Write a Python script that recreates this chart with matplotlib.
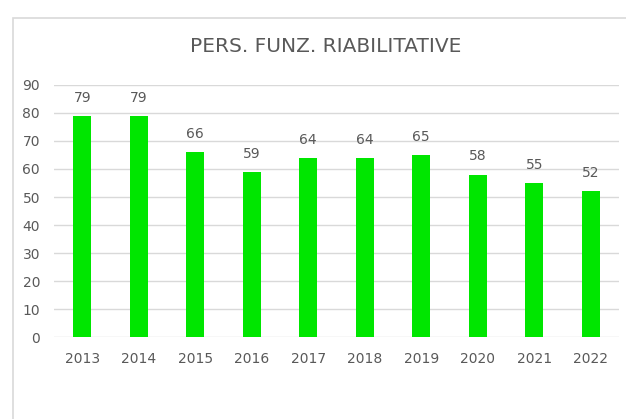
import matplotlib
matplotlib.use("Agg")
import matplotlib.pyplot as plt
from matplotlib.patches import Rectangle

years = ["2013", "2014", "2015", "2016", "2017", "2018", "2019", "2020", "2021", "2022"]
values = [79, 79, 66, 59, 64, 64, 65, 58, 55, 52]
title = "PERS. FUNZ. RIABILITATIVE"

grey = "#595959"
fig = plt.figure(figsize=(6.26, 4.19), dpi=100)
fig.patches.append(Rectangle((13 / 626, -0.05), 1.0, 1 - 18 / 419 + 0.05,
                             transform=fig.transFigure, fill=False,
                             edgecolor="#d9d9d9", linewidth=1.2))

ax = fig.add_axes([54 / 626, 1 - 337 / 419, (619 - 54) / 626, (337 - 85) / 419])
x = range(len(years))
bars = ax.bar(x, values, width=0.32, color="#00e600", zorder=3)
for b, v in zip(bars, values):
    ax.text(b.get_x() + b.get_width() / 2, v + 4, str(v), ha="center", va="bottom",
            fontsize=10, color=grey)

ax.set_xlim(-0.5, len(years) - 0.5)
ax.set_ylim(0, 90)
ax.set_yticks(range(0, 91, 10))
ax.set_xticks(list(x))
ax.set_xticklabels(years)
ax.grid(axis="y", color="#d9d9d9", linewidth=1, zorder=0)
for s in ax.spines.values():
    s.set_visible(False)
ax.tick_params(length=0, labelsize=10, labelcolor=grey)
ax.tick_params(axis="x", pad=11)
ax.tick_params(axis="y", pad=10)

fig.text(326 / 626, 1 - 47 / 419, title, ha="center", va="center", fontsize=14.5, color=grey)

fig.savefig("out.png", dpi=100)
